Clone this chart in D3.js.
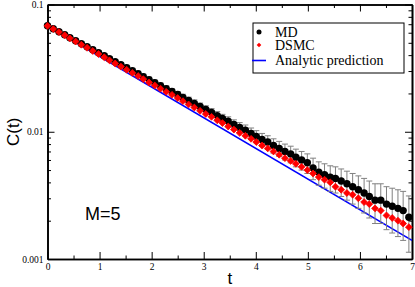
<!DOCTYPE html>
<html>
<head>
<meta charset="utf-8">
<script src="https://cdn.jsdelivr.net/npm/d3@7"></script>
<style>
  body { margin: 0; background: #fff; }
  svg { display: block; }
</style>
</head>
<body>
<div id="chart"></div>
<script>
// data
var times = [0.00, 0.11, 0.22, 0.33, 0.43, 0.54, 0.65, 0.76, 0.87, 0.98,
             1.09, 1.19, 1.30, 1.41, 1.52, 1.63, 1.74, 1.84, 1.95, 2.06,
             2.17, 2.28, 2.39, 2.50, 2.60, 2.71, 2.82, 2.93, 3.04, 3.15,
             3.26, 3.36, 3.47, 3.58, 3.69, 3.80, 3.91, 4.01, 4.12, 4.23,
             4.34, 4.45, 4.56, 4.67, 4.77, 4.88, 4.99, 5.10, 5.21, 5.32,
             5.43, 5.53, 5.64, 5.75, 5.86, 5.97, 6.08, 6.18, 6.29, 6.40,
             6.51, 6.62, 6.73, 6.83, 6.94];
var md = [0.0680, 0.0644, 0.0610, 0.0578, 0.0548, 0.0519, 0.0491, 0.0466, 0.0441, 0.0418,
          0.0396, 0.0375, 0.0355, 0.0336, 0.0319, 0.0302, 0.0286, 0.0271, 0.0257, 0.0243,
          0.0230, 0.0218, 0.0207, 0.0196, 0.0186, 0.0176, 0.0167, 0.0158, 0.0150, 0.0142,
          0.0134, 0.0127, 0.0121, 0.0114, 0.0108, 0.0103, 0.0097, 0.0092, 0.0087, 0.0083,
          0.0078, 0.0074, 0.0070, 0.0067, 0.0063, 0.0060, 0.0057, 0.0052, 0.0048, 0.0046,
          0.0044, 0.0043, 0.0041, 0.0039, 0.0037, 0.0035, 0.0033, 0.0031, 0.0029, 0.0029,
          0.0027, 0.0026, 0.0025, 0.0024, 0.00213];
var mdErr = [0.0022, 0.0021, 0.0020, 0.0019, 0.0018, 0.0018, 0.0017, 0.0017, 0.0016, 0.0016,
             0.0015, 0.0015, 0.0014, 0.0014, 0.0014, 0.0013, 0.0013, 0.0013, 0.0012, 0.0012,
             0.0012, 0.0012, 0.0011, 0.0011, 0.0011, 0.0011, 0.0011, 0.0010, 0.0010, 0.0010,
             0.0010, 0.0010, 0.0010, 0.0010, 0.0010, 0.0010, 0.0010, 0.0010, 0.0010, 0.0010,
             0.0010, 0.0010, 0.0010, 0.0010, 0.0010, 0.0010, 0.0010, 0.0010, 0.0010, 0.0010,
             0.0010, 0.0010, 0.0010, 0.0010, 0.0010, 0.0010, 0.0010, 0.0010, 0.0010, 0.0010,
             0.0010, 0.0010, 0.0010, 0.0010, 0.0010];
var dsmc = [0.0680, 0.0642, 0.0607, 0.0573, 0.0542, 0.0512, 0.0483, 0.0457, 0.0431, 0.0408,
            0.0385, 0.0364, 0.0344, 0.0325, 0.0307, 0.0290, 0.0274, 0.0259, 0.0244, 0.0231,
            0.0218, 0.0206, 0.0195, 0.0184, 0.0174, 0.0164, 0.0155, 0.0146, 0.0138, 0.0131,
            0.0123, 0.0117, 0.0110, 0.0104, 0.0098, 0.0093, 0.0088, 0.0083, 0.0078, 0.0074,
            0.0070, 0.0066, 0.0062, 0.0059, 0.0056, 0.0053, 0.0050, 0.0047, 0.0044, 0.0042,
            0.0040, 0.0037, 0.0035, 0.0033, 0.0032, 0.0030, 0.0028, 0.0027, 0.0025, 0.0024,
            0.0022, 0.0021, 0.0020, 0.0019, 0.00178];
var analyticT = [0, 7];
var analyticC = [0.068, 0.0014];

var xMajor = [0, 1, 2, 3, 4, 5, 6, 7];
var xMinor = [0.5, 1.5, 2.5, 3.5, 4.5, 5.5, 6.5];
var yMajor = [0.001, 0.01, 0.1];
var yMinor = [0.002, 0.003, 0.004, 0.005, 0.006, 0.007, 0.008, 0.009,
              0.02, 0.03, 0.04, 0.05, 0.06, 0.07, 0.08, 0.09];
var legendItems = ["MD", "DSMC", "Analytic prediction"];

function drawChart(){
    var width = 415, height = 287;
    var pLeft = 47.5, pRight = 412, pTop = 4.5, pBottom = 259;

    var svg = d3.select("#chart").append("svg")
        .attr("width", width).attr("height", height);

    var x = d3.scaleLinear().domain([0, 7]).range([pLeft, pRight]);
    var y = d3.scaleLog().domain([0.001, 0.1]).range([pBottom, pTop]);

    var serif = "'Liberation Serif', 'Times New Roman', serif";
    var sans = "'Liberation Sans', Arial, sans-serif";

    // axes (ticks point inward on all four sides)
    function styleAxis(g){
        g.select(".domain").attr("stroke", "#000").attr("stroke-width", 1.6);
        g.selectAll(".tick line").attr("stroke", "#000").attr("stroke-width", 1);
        g.selectAll("text").attr("font-family", serif).attr("font-size", "9.5px").attr("fill", "#000");
    }

    svg.append("g").attr("transform", "translate(0," + pBottom + ")")
        .call(d3.axisBottom(x).tickValues(xMinor).tickSize(-3.5).tickFormat("").tickSizeOuter(0)).call(styleAxis);
    svg.append("g").attr("transform", "translate(0," + pBottom + ")")
        .call(d3.axisBottom(x).tickValues(xMajor).tickSize(-7).tickPadding(4).tickFormat(d3.format("d")).tickSizeOuter(0)).call(styleAxis);
    svg.append("g").attr("transform", "translate(0," + pTop + ")")
        .call(d3.axisTop(x).tickValues(xMinor).tickSize(-3.5).tickFormat("").tickSizeOuter(0)).call(styleAxis);
    svg.append("g").attr("transform", "translate(0," + pTop + ")")
        .call(d3.axisTop(x).tickValues(xMajor).tickSize(-7).tickFormat("").tickSizeOuter(0)).call(styleAxis);

    svg.append("g").attr("transform", "translate(" + pLeft + ",0)")
        .call(d3.axisLeft(y).tickValues(yMinor).tickSize(-3.5).tickFormat("").tickSizeOuter(0)).call(styleAxis);
    svg.append("g").attr("transform", "translate(" + pLeft + ",0)")
        .call(d3.axisLeft(y).tickValues(yMajor).tickSize(-7).tickPadding(4).tickFormat(d3.format("")).tickSizeOuter(0)).call(styleAxis);
    svg.append("g").attr("transform", "translate(" + pRight + ",0)")
        .call(d3.axisRight(y).tickValues(yMinor).tickSize(-3.5).tickFormat("").tickSizeOuter(0)).call(styleAxis);
    svg.append("g").attr("transform", "translate(" + pRight + ",0)")
        .call(d3.axisRight(y).tickValues(yMajor).tickSize(-7).tickFormat("").tickSizeOuter(0)).call(styleAxis);

    // analytic prediction
    var line = d3.line().x(function(d){ return x(d[0]); }).y(function(d){ return y(d[1]); });
    svg.append("path")
        .datum(d3.zip(analyticT, analyticC))
        .attr("d", line)
        .attr("fill", "none").attr("stroke", "#0000ff").attr("stroke-width", 1.6);

    // MD with error bars
    var mdData = times.map(function(t, i){ return {t: t, c: md[i], e: mdErr[i]}; });
    var eb = svg.append("g").attr("stroke", "#808080").attr("stroke-width", 1);
    mdData.forEach(function(d){
        var cx = x(d.t), y0 = y(d.c + d.e), y1 = y(Math.max(d.c - d.e, 0.0010001));
        eb.append("line").attr("x1", cx).attr("x2", cx).attr("y1", y0).attr("y2", y1);
        eb.append("line").attr("x1", cx - 3).attr("x2", cx + 3).attr("y1", y0).attr("y2", y0);
        eb.append("line").attr("x1", cx - 3).attr("x2", cx + 3).attr("y1", y1).attr("y2", y1);
    });
    svg.append("g").selectAll("circle")
        .data(mdData).enter().append("circle")
        .attr("cx", function(d){ return x(d.t); })
        .attr("cy", function(d){ return y(d.c); })
        .attr("r", 3.7).attr("fill", "#000");

    // DSMC
    var diamond = d3.symbol().type(d3.symbolDiamond2).size(30);
    svg.append("g").selectAll("path")
        .data(times.map(function(t, i){ return [t, dsmc[i]]; }))
        .enter().append("path")
        .attr("d", diamond)
        .attr("transform", function(d){ return "translate(" + x(d[0]) + "," + y(d[1]) + ")"; })
        .attr("fill", "#ff0000").attr("stroke", "#ff0000").attr("stroke-width", 0.8)
        .attr("stroke-linejoin", "round");

    // legend
    var lg = svg.append("g");
    lg.append("rect").attr("x", 253).attr("y", 23).attr("width", 151).attr("height", 50)
        .attr("fill", "#fff").attr("stroke", "#000").attr("stroke-width", 1);
    var ly = [32, 45, 60.5];
    lg.append("circle").attr("cx", 259).attr("cy", ly[0]).attr("r", 2.5).attr("fill", "#000");
    lg.append("path").attr("d", d3.symbol().type(d3.symbolDiamond2).size(14))
        .attr("transform", "translate(259," + ly[1] + ")").attr("fill", "#ff0000");
    lg.append("line").attr("x1", 252).attr("x2", 266).attr("y1", ly[2]).attr("y2", ly[2])
        .attr("stroke", "#0000ff").attr("stroke-width", 1.6);
    lg.selectAll("text.item").data(legendItems).enter().append("text")
        .attr("x", 275).attr("y", function(d, i){ return ly[i] + 4.5; })
        .attr("font-family", serif).attr("font-size", "14px").attr("fill", "#000")
        .text(function(d){ return d; });

    // axis titles and label
    svg.append("text").attr("x", x(3.5)).attr("y", 284).attr("text-anchor", "middle")
        .attr("font-family", sans).attr("font-size", "17px").text("t");
    svg.append("text").attr("transform", "translate(19," + ((pTop + pBottom) / 2) + ") rotate(-90)")
        .attr("text-anchor", "middle").attr("font-family", sans).attr("font-size", "17px").text("C(t)");
    svg.append("text").attr("x", 85).attr("y", 220)
        .attr("font-family", sans).attr("font-size", "18px").text("M=5");
}

drawChart();
</script>
</body>
</html>
